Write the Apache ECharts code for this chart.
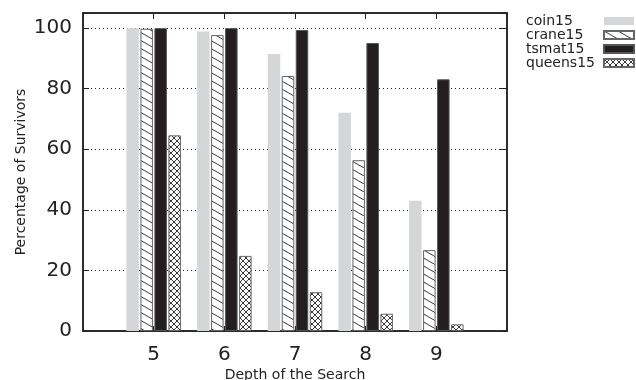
<!DOCTYPE html>
<html>
<head>
<meta charset="utf-8">
<script src="https://cdn.jsdelivr.net/npm/echarts@6/dist/echarts.min.js"></script>
<style>html,body{margin:0;padding:0;background:#fff;}#c{width:636px;height:380px;}</style>
</head>
<body>
<div id="c"></div>
<script>
// ---- data ----
const depths = [5, 6, 7, 8, 9];
const seriesNames = ['coin15', 'crane15', 'tsmat15', 'queens15'];
const coin15 = [100, 98.9, 91.5, 72.1, 43.0];
const crane15 = [99.8, 97.7, 84.2, 56.4, 26.7];
const tsmat15 = [100, 100, 99.4, 95.1, 83.1];
const queens15 = [64.6, 24.8, 12.8, 5.7, 2.2];
const yTicks = [0, 20, 40, 60, 80, 100];
const xTitle = 'Depth of the Search';
const yTitle = 'Percentage of Survivors';

// ---- fill patterns ----
function hatchCanvas(w, h, both) {
  const c = document.createElement('canvas');
  c.width = w; c.height = h;
  const g = c.getContext('2d');
  g.fillStyle = '#fff'; g.fillRect(0, 0, w, h);
  g.strokeStyle = '#222'; g.lineWidth = 0.9;
  const seg = (x1, y1, x2, y2) => { g.beginPath(); g.moveTo(x1, y1); g.lineTo(x2, y2); g.stroke(); };
  for (const dx of [-w, 0, w]) {
    seg(dx, 0, dx + w, h);
    if (both) seg(dx, h, dx + w, 0);
  }
  return c;
}
const craneFill = { image: hatchCanvas(14, 8, false), repeat: 'repeat' };
const queensFill = { image: hatchCanvas(6, 6, true), repeat: 'repeat' };

const font = 'DejaVu Sans';
const pair = arr => depths.map((d, i) => [d, arr[i]]);

const styles = {
  coin15: { color: '#d5d6d8', borderWidth: 0 },
  crane15: { color: craneFill, borderColor: '#666', borderWidth: 1 },
  tsmat15: { color: '#231f20', borderColor: '#555', borderWidth: 1 },
  queens15: { color: queensFill, borderColor: '#666', borderWidth: 1 }
};
const values = { coin15, crane15, tsmat15, queens15 };

const chart = echarts.init(document.getElementById('c'), null, { renderer: 'canvas' });
const axisLine = { show: true, onZero: false, lineStyle: { color: '#222', width: 1.5 } };
chart.setOption({
  animation: false,
  backgroundColor: '#fff',
  grid: { left: 83, top: 13, width: 424, height: 318, containLabel: false, outerBoundsMode: 'none',
    show: true, borderColor: '#222', borderWidth: 1.5, backgroundColor: 'transparent' },
  legend: [
    {
      orient: 'vertical', left: 521, top: 14, padding: 0, itemGap: 0,
      itemWidth: 0, itemHeight: 8, icon: 'rect', selectedMode: false,
      itemStyle: { color: 'rgba(0,0,0,0)', borderWidth: 0, opacity: 0 },
      data: seriesNames,
      textStyle: { fontFamily: font, fontSize: 14, color: '#222', lineHeight: 14 }
    },
    {
      orient: 'vertical', left: 603, top: 14, padding: 0, itemGap: 0,
      itemWidth: 30, itemHeight: 8, icon: 'rect', selectedMode: false,
      data: seriesNames, formatter: () => ' ',
      textStyle: { fontFamily: font, fontSize: 14, color: '#222', lineHeight: 14 }
    }
  ],
  xAxis: [
    {
      type: 'value', min: 4, max: 10, interval: 1, position: 'bottom',
      name: xTitle, nameLocation: 'middle', nameGap: 37, nameMoveOverlap: false,
      nameTextStyle: { fontFamily: font, fontSize: 14, color: '#222' },
      axisLine: axisLine,
      axisTick: { show: true, inside: true, length: 5, lineStyle: { color: '#222', width: 1 } },
      axisLabel: { fontFamily: font, fontSize: 20, color: '#222', margin: 14,
        formatter: v => depths.includes(v) ? String(v) : '' },
      splitLine: { show: false }
    },
    {
      type: 'value', min: 4, max: 10, interval: 1, position: 'top',
      axisLine: axisLine,
      axisTick: { show: true, inside: true, length: 6, lineStyle: { color: '#222', width: 1 } },
      axisLabel: { show: false }, splitLine: { show: false }
    }
  ],
  yAxis: [
    {
      type: 'value', min: 0, max: 105, interval: 20, position: 'left',
      name: yTitle, nameLocation: 'middle', nameGap: 55, nameMoveOverlap: false,
      nameTextStyle: { fontFamily: font, fontSize: 14, color: '#222' },
      axisLine: axisLine,
      axisTick: { show: true, inside: true, length: 6, lineStyle: { color: '#222', width: 1 } },
      axisLabel: { fontFamily: font, fontSize: 20, color: '#222', margin: 11,
        formatter: v => yTicks.includes(v) ? String(v) : '' },
      splitLine: { show: true, lineStyle: { color: '#222', type: [1, 3], width: 1 } }
    },
    {
      type: 'value', min: 0, max: 105, interval: 20, position: 'right',
      axisLine: axisLine,
      axisTick: { show: true, inside: true, length: 7, lineStyle: { color: '#222', width: 1 } },
      axisLabel: { show: false }, splitLine: { show: false }
    }
  ],
  series: seriesNames.map(n => ({
    name: n, type: 'bar', xAxisIndex: 0, yAxisIndex: 0,
    barWidth: 12.5, barGap: '12%',
    itemStyle: styles[n],
    data: pair(values[n])
  }))
});
</script>
</body>
</html>
